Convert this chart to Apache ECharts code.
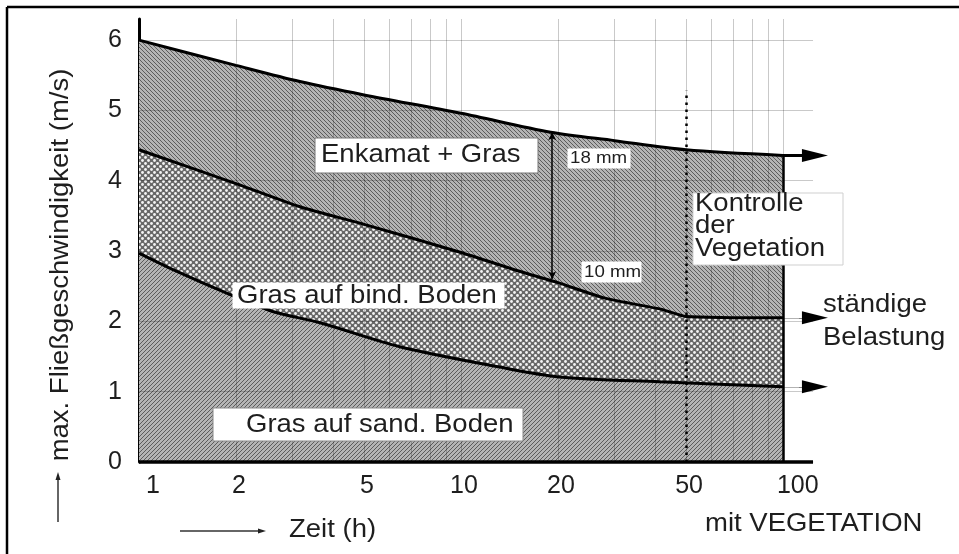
<!DOCTYPE html>
<html><head><meta charset="utf-8">
<script src="https://cdn.jsdelivr.net/npm/echarts@6/dist/echarts.min.js"></script>
<style>html,body{margin:0;padding:0;background:#fff}#c{width:959px;height:554px}</style>
</head><body><div id="c"></div>
<script>
const FONT = '"Liberation Sans", Arial, Helvetica, sans-serif';

// ---- data ----
const timeTicks = [1, 2, 5, 10, 20, 50, 100];
const velocityTicks = [0, 1, 2, 3, 4, 5, 6];
const gridTimes = [2, 3, 4, 5, 6, 7, 8, 9, 10, 20, 30, 40, 50, 60, 70, 80, 90, 100];
const gridVelocities = [1, 2, 3, 4, 5, 6];

const enkamatT = [1, 2, 3.16, 5, 10, 19, 30, 50, 100];
const enkamatV = [6.0, 5.64, 5.41, 5.22, 4.96, 4.69, 4.57, 4.44, 4.36];
const bindigT = [1, 2, 3.16, 5, 10, 15, 20, 28, 42, 50, 100];
const bindigV = [4.44, 3.96, 3.63, 3.38, 2.98, 2.72, 2.55, 2.33, 2.17, 2.07, 2.05];
const sandigT = [1, 1.27, 1.92, 2.6, 3.65, 6.45, 13.2, 20.2, 41.3, 100];
const sandigV = [2.97, 2.74, 2.38, 2.14, 1.98, 1.64, 1.35, 1.21, 1.14, 1.07];

const thicknessT = 19.2;          // position of the 18 mm / 10 mm arrow
const thicknessTop = 4.69;
const thicknessBottom = 2.60;
const controlT = 50;              // "Kontrolle der Vegetation"
const controlTopV = 5.28;
const endT = 100;
const axisEndT = 124;
const arrowBaseT = 112;
const arrowTipT = 125.7;
const yMax = 6.3;

// ---- patterns ----
function hatch(dir) {
  const c = document.createElement('canvas'); c.width = 4; c.height = 4;
  const g = c.getContext('2d');
  g.fillStyle = '#b4b4b4'; g.fillRect(0, 0, 4, 4);
  g.fillStyle = '#5c5c5c';
  for (let i = 0; i < 4; i++) g.fillRect(dir > 0 ? i : 3 - i, i, 1, 1);
  return c;
}
function dots() {
  const c = document.createElement('canvas'); c.width = 6; c.height = 6;
  const g = c.getContext('2d');
  g.fillStyle = '#686868'; g.fillRect(0, 0, 6, 6);
  g.fillStyle = '#f4f4f4';
  [[1.5, 1.5], [4.5, 4.5]].forEach(([x, y]) => { g.beginPath(); g.arc(x, y, 1.4, 0, Math.PI * 2); g.fill(); });
  return c;
}
const pair = (ts, vs) => ts.map((t, i) => [t, vs[i]]);
const last = a => a[a.length - 1];

const chart = echarts.init(document.getElementById('c'), null, { renderer: 'canvas' });

const curveStyle = { color: '#000', width: 3 };
const headLine = { color: '#000', width: 0.5, type: 'solid' };
const thinGray = { color: 'rgba(0,0,0,0.3)', width: 1, type: 'solid' };
chart.setOption({
  animation: false,
  backgroundColor: '#fff',
  grid: { left: 139, right: 131, top: 19, bottom: 92, containLabel: false },
  xAxis: {
    type: 'log', logBase: 10, min: 1, max: 138,
    axisLine: { show: false }, axisTick: { show: false },
    axisLabel: { show: false }, splitLine: { show: false }
  },
  yAxis: {
    type: 'value', min: 0, max: yMax, interval: 1,
    axisLine: { show: true, lineStyle: { color: '#000', width: 3 } },
    axisTick: { show: false },
    splitLine: { show: false },
    axisLabel: {
      margin: 17, fontSize: 25, fontFamily: FONT, color: '#1e1e1e',
      formatter: v => (velocityTicks.indexOf(v) >= 0 ? String(v) : '')
    }
  },
  series: [
    {
      type: 'line', name: 'Enkamat + Gras', data: pair(enkamatT, enkamatV),
      symbol: 'none', smooth: 0.3, lineStyle: curveStyle, z: 2,
      areaStyle: { color: { image: hatch(1), repeat: 'repeat' }, opacity: 1 }
    },
    {
      type: 'line', name: 'Gras auf bind. Boden', data: pair(bindigT, bindigV),
      symbol: 'none', smooth: 0.2, lineStyle: curveStyle, z: 3,
      areaStyle: { color: { image: dots(), repeat: 'repeat' }, opacity: 1 }
    },
    {
      type: 'line', name: 'Gras auf sand. Boden', data: pair(sandigT, sandigV),
      symbol: 'none', smooth: 0.3, lineStyle: curveStyle, z: 4,
      areaStyle: { color: { image: hatch(-1), repeat: 'repeat' }, opacity: 1 }
    },
    {
      type: 'line', name: 'grid', data: [], symbol: 'none',
      markLine: {
        silent: true, symbol: 'none', animation: false, z: 5,
        label: { show: false },
        lineStyle: { color: 'rgba(0,0,0,0.21)', width: 1, type: 'solid' },
        data: [
          ...gridVelocities.map(v => [{ coord: [1, v] }, { coord: [axisEndT, v] }]),
          ...gridTimes.map(t => [{ coord: [t, 0] }, { coord: [t, yMax] }])
        ]
      }
    },
    {
      type: 'line', name: 'frame', data: [], symbol: 'none',
      markLine: {
        silent: true, symbol: 'none', animation: false, z: 6,
        label: { show: false },
        data: [
          [{ coord: [1, 0], lineStyle: { color: '#000', width: 3.5, type: 'solid' } }, { coord: [axisEndT, 0] }],
          [{ coord: [endT, 0], lineStyle: { color: '#000', width: 2.5, type: 'solid' } }, { coord: [endT, last(enkamatV)] }],
          [{ coord: [controlT, 0], lineStyle: { color: '#000', width: 2.5, type: [2.5, 4.5] } }, { coord: [controlT, controlTopV] }],
          [{ coord: [endT, last(enkamatV)], symbol: 'none', lineStyle: { color: '#000', width: 3, type: 'solid' } },
           { coord: [arrowTipT, last(enkamatV)], symbol: 'triangle', symbolSize: [13, 26] }],
          [{ coord: [endT, last(bindigV)], lineStyle: thinGray }, { coord: [arrowBaseT, last(bindigV)] }],
          [{ coord: [arrowBaseT, last(bindigV)], symbol: 'none', lineStyle: headLine },
           { coord: [arrowTipT, last(bindigV)], symbol: 'triangle', symbolSize: [13, 26] }],
          [{ coord: [endT, last(sandigV)], lineStyle: thinGray }, { coord: [arrowBaseT, last(sandigV)] }],
          [{ coord: [arrowBaseT, last(sandigV)], symbol: 'none', lineStyle: headLine },
           { coord: [arrowTipT, last(sandigV)], symbol: 'triangle', symbolSize: [13, 26] }],
          [{ coord: [thicknessT, thicknessTop], symbol: 'arrow', symbolSize: [6, 8], lineStyle: { color: '#000', width: 1.5, type: 'solid' } },
           { coord: [thicknessT, thicknessBottom], symbol: 'arrow', symbolSize: [6, 8] }]
        ]
      }
    }
  ]
});

// ---- annotations ----
const TXT = '#1e1e1e';
function text(x, y, s, size, opts) {
  opts = opts || {};
  const align = opts.align || 'left';
  return {
    type: 'text', x: x, y: y, z: 100, scaleX: opts.sx || 1, rotation: opts.rot || 0,
    style: {
      text: s, font: (size) + 'px ' + FONT, fill: opts.color || TXT,
      align: align, textAlign: align, verticalAlign: 'middle', textVerticalAlign: 'middle'
    }
  };
}
function box(x, y, w, h, stroke) {
  return { type: 'rect', z: 99, shape: { x: x, y: y, width: w, height: h },
    style: { fill: '#fff', stroke: stroke || '#8a8a8a', lineWidth: 1 } };
}
const SX = 1.1;
const els = [];
// outer frame
els.push({ type: 'line', z: 100, shape: { x1: 7, y1: 7, x2: 959, y2: 7 }, style: { stroke: '#000', lineWidth: 2.5 } });
els.push({ type: 'line', z: 100, shape: { x1: 7, y1: 7, x2: 7, y2: 554 }, style: { stroke: '#000', lineWidth: 2.5 } });

// x tick labels
timeTicks.forEach((t, i) => {
  const p = chart.convertToPixel({ gridIndex: 0 }, [t, 0]);
  let x = p[0] + 3, align = 'center';
  if (i === 0) { x = p[0] + 7; align = 'left'; }
  if (i === timeTicks.length - 1) { x = p[0] - 6; align = 'left'; }
  els.push(text(x, p[1] + 24, String(t), 25, { align: align }));
});

// axis titles
els.push(text(61, 265, 'max. Fließgeschwindigkeit (m/s)', 25, { align: 'center', rot: Math.PI / 2, sx: SX }));
els.push({ type: 'line', z: 100, shape: { x1: 58, y1: 522, x2: 58, y2: 478 }, style: { stroke: '#333', lineWidth: 1.5 } });
els.push({ type: 'polygon', z: 100, shape: { points: [[58, 472], [55.5, 480], [60.5, 480]] }, style: { fill: '#222' } });
els.push({ type: 'line', z: 100, shape: { x1: 180, y1: 531, x2: 260, y2: 531 }, style: { stroke: '#333', lineWidth: 1.5 } });
els.push({ type: 'polygon', z: 100, shape: { points: [[266, 531], [258, 528.5], [258, 533.5]] }, style: { fill: '#222' } });
els.push(text(289, 530, 'Zeit (h)', 25, { sx: SX }));
els.push(text(705, 524, 'mit VEGETATION', 25, { sx: SX }));

// region labels
els.push(box(315, 138, 223, 35, '#777'));
els.push(text(321, 155, 'Enkamat + Gras', 25, { sx: SX }));
els.push(box(568, 149, 62, 19, '#fff'));
els.push(text(570, 158, '18 mm', 17, { sx: SX }));
els.push(box(582, 262, 59, 20, '#fff'));
els.push(text(584, 272, '10 mm', 17, { sx: SX }));
els.push(box(233, 283, 271, 25, '#fff'));
els.push(text(237, 296, 'Gras auf bind. Boden', 25, { sx: SX }));
els.push(box(213, 408, 310, 33, '#888'));
els.push(text(246, 425, 'Gras auf sand. Boden', 25, { sx: SX }));
els.push(box(693, 193, 150, 72, '#cfcfcf'));
els.push(text(695, 204, 'Kontrolle', 25, { sx: SX }));
els.push(text(695, 226, 'der', 25, { sx: SX }));
els.push(text(695, 249, 'Vegetation', 25, { sx: SX }));
els.push(text(823, 305, 'ständige', 25, { sx: SX }));
els.push(text(823, 338, 'Belastung', 25, { sx: SX }));

chart.setOption({ graphic: { elements: els } });
</script>
</body></html>
